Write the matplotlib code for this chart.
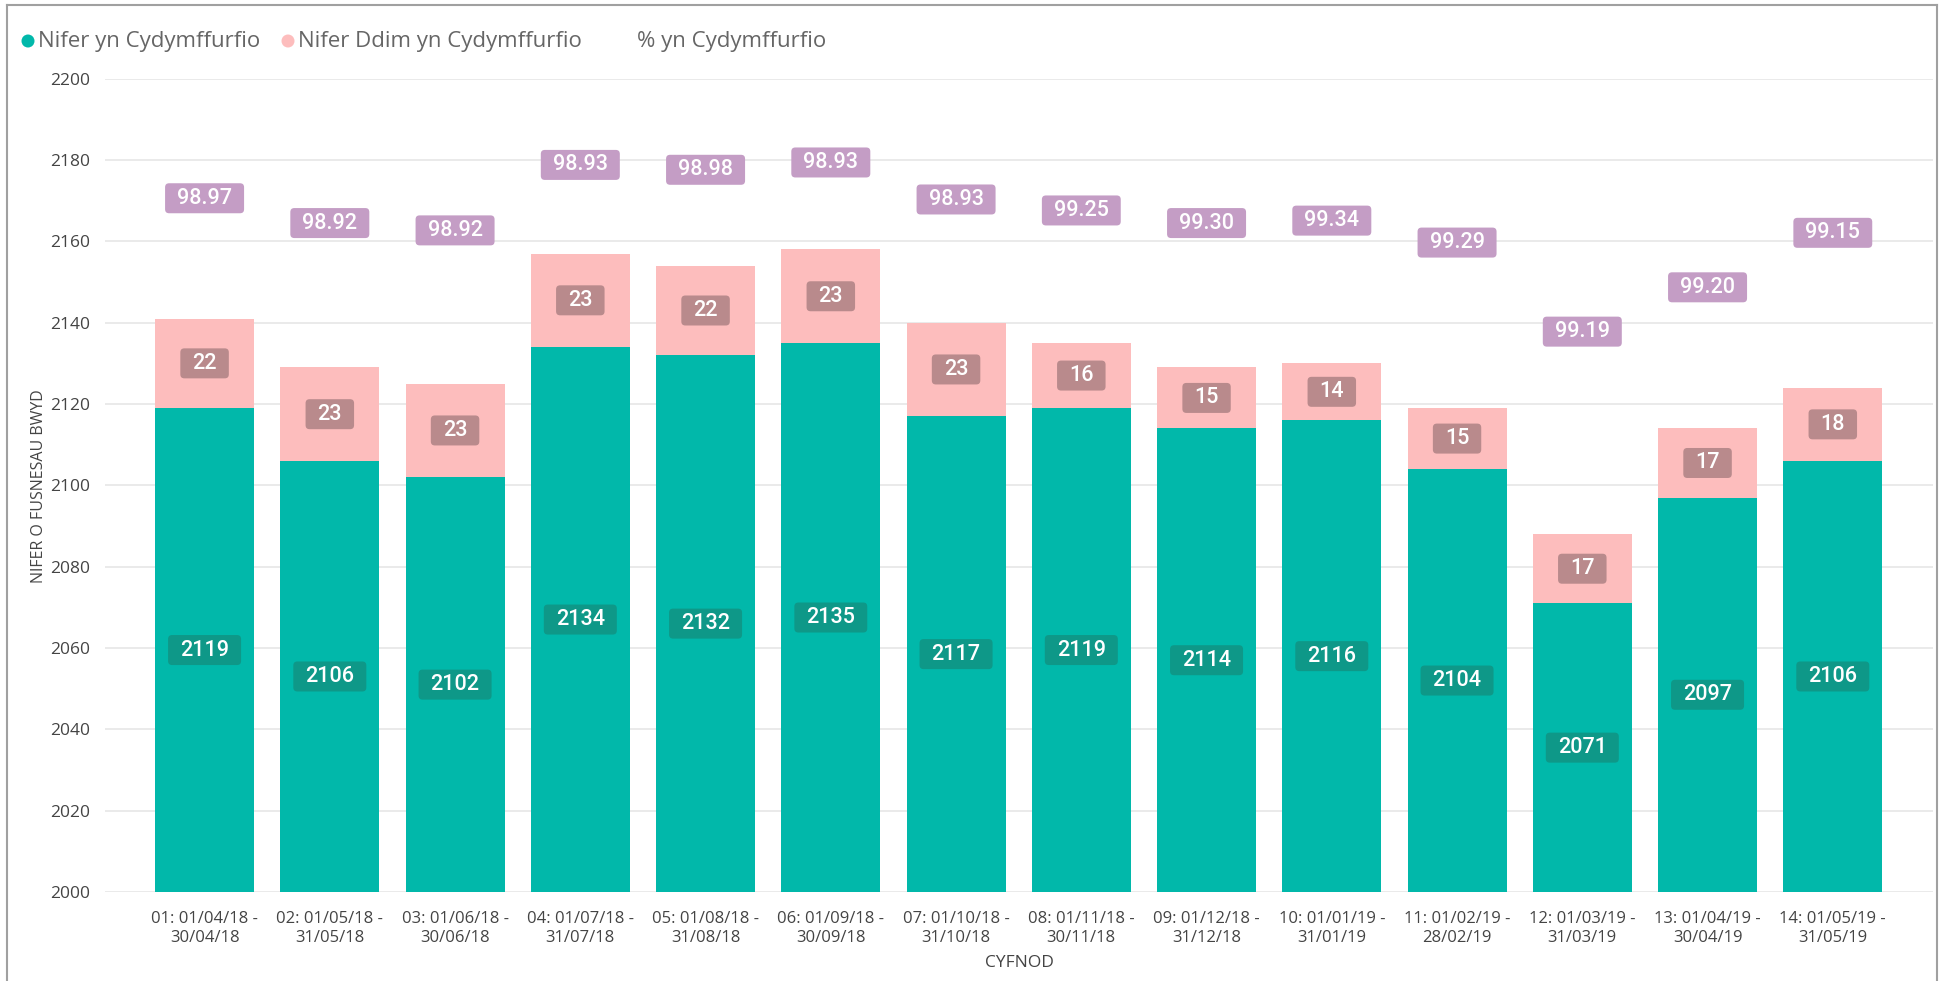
import matplotlib
matplotlib.use("Agg")
import matplotlib.pyplot as plt
from matplotlib.patches import FancyBboxPatch, Circle
from matplotlib.transforms import IdentityTransform
from matplotlib.lines import Line2D
import numpy as np

# ---- data ----
periods = [
    "01: 01/04/18 -\n30/04/18", "02: 01/05/18 -\n31/05/18", "03: 01/06/18 -\n30/06/18",
    "04: 01/07/18 -\n31/07/18", "05: 01/08/18 -\n31/08/18", "06: 01/09/18 -\n30/09/18",
    "07: 01/10/18 -\n31/10/18", "08: 01/11/18 -\n30/11/18", "09: 01/12/18 -\n31/12/18",
    "10: 01/01/19 -\n31/01/19", "11: 01/02/19 -\n28/02/19", "12: 01/03/19 -\n31/03/19",
    "13: 01/04/19 -\n30/04/19", "14: 01/05/19 -\n31/05/19",
]
compliant = [2119, 2106, 2102, 2134, 2132, 2135, 2117, 2119, 2114, 2116, 2104, 2071, 2097, 2106]
non_compliant = [22, 23, 23, 23, 22, 23, 23, 16, 15, 14, 15, 17, 17, 18]
pct_compliant = [98.97, 98.92, 98.92, 98.93, 98.98, 98.93, 98.93, 99.25, 99.30, 99.34,
                 99.29, 99.19, 99.20, 99.15]
# vertical placement of the % labels (in the count-axis units, as laid out in the source)
pct_label_level = [2170.6, 2164.5, 2162.7, 2178.8, 2177.6, 2179.4, 2170.3, 2167.6,
                   2164.5, 2165.1, 2159.7, 2137.8, 2148.7, 2162.1]
yticks = [2000, 2020, 2040, 2060, 2080, 2100, 2120, 2140, 2160, 2180, 2200]

series_names = ["Nifer yn Cydymffurfio", "Nifer Ddim yn Cydymffurfio", "% yn Cydymffurfio"]

# ---- style ----
TEAL = "#01B8AA"
PINK = "#FDBDBD"
TEAL_BOX = "#0E9888"
PINK_BOX = "#B98A8C"
PURPLE_BOX = "#C49DC5"
TICK_COL = "#444444"
LEG_COL = "#666666"
UI_FONT = ["Open Sans", "DejaVu Sans"]
NUM_FONT = ["Roboto", "DejaVu Sans"]

W, H = 1942, 981
fig = plt.figure(figsize=(W / 100, H / 100), dpi=100)
ax = fig.add_axes([105 / W, 1 - 892 / H, (1933 - 105) / W, (892 - 78.7) / H])

x = np.arange(len(periods))
bw = 0.79
ax.bar(x, [c - 2000 for c in compliant], bottom=2000, width=bw, color=TEAL, zorder=2)
ax.bar(x, non_compliant, bottom=compliant, width=bw, color=PINK, zorder=2)

ax.set_ylim(2000, 2200)
ax.set_xlim(-0.795, len(periods) - 1 + 0.80)
ax.set_yticks(yticks)
ax.set_yticklabels([str(t) for t in yticks], fontfamily=UI_FONT, fontsize=12.5, color=TICK_COL)
ax.set_xticks(x)
ax.set_xticklabels(periods, fontfamily=UI_FONT, fontsize=12, color=TICK_COL, linespacing=1.25)
ax.tick_params(axis="y", length=0, pad=11)
ax.tick_params(axis="x", length=0, pad=14)
ax.grid(axis="y", color="#E6E6E6", linewidth=1.2, zorder=0)
ax.set_axisbelow(True)
for s in ax.spines.values():
    s.set_visible(False)

fig.text(39 / W, 1 - 486 / H, "NIFER O FUSNESAU BWYD", rotation=90, ha="center", va="center",
         fontfamily=UI_FONT, fontsize=11.5, color=TICK_COL)
fig.text(1019 / W, 1 - 963 / H, "CYFNOD", ha="center", va="center",
         fontfamily=UI_FONT, fontsize=12.5, color=TICK_COL)

# ---- data labels ----
labels = []
for i in range(len(periods)):
    labels.append((ax.text(x[i], (2000 + compliant[i]) / 2, str(compliant[i]), ha="center", va="center",
                           color="white", fontsize=15.5, fontfamily=NUM_FONT, fontweight="medium",
                           zorder=6), TEAL_BOX))
    labels.append((ax.text(x[i], compliant[i] + non_compliant[i] / 2, str(non_compliant[i]), ha="center",
                           va="center", color="white", fontsize=15.5, fontfamily=NUM_FONT,
                           fontweight="medium", zorder=6), PINK_BOX))
    labels.append((ax.text(x[i], pct_label_level[i], f"{pct_compliant[i]:.2f}", ha="center", va="center",
                           color="white", fontsize=15.5, fontfamily=NUM_FONT, fontweight="medium",
                           zorder=6), PURPLE_BOX))

fig.canvas.draw()
renderer = fig.canvas.get_renderer()
r = 4
bh = 30
for t, col in labels:
    bb = t.get_window_extent(renderer)
    cx = (bb.x0 + bb.x1) / 2
    cy = (bb.y0 + bb.y1) / 2
    w = bb.width + 24
    p = FancyBboxPatch((cx - w / 2 + r, cy - bh / 2 + r), w - 2 * r, bh - 2 * r,
                       boxstyle=f"round,pad={r}", facecolor=col, edgecolor="none",
                       transform=IdentityTransform(), zorder=5, clip_on=False)
    ax.add_artist(p)

# ---- legend (top-left, Power BI style) ----
leg_py = 41
leg_y = 1 - leg_py / H
fig.add_artist(Circle((28, H - leg_py), 6.5, transform=IdentityTransform(), facecolor=TEAL, edgecolor="none"))
fig.text(38 / W, leg_y, series_names[0], ha="left", va="center", fontfamily=UI_FONT, fontsize=16, color=LEG_COL)
fig.add_artist(Circle((288, H - leg_py), 6.5, transform=IdentityTransform(), facecolor=PINK, edgecolor="none"))
fig.text(298 / W, leg_y, series_names[1], ha="left", va="center", fontfamily=UI_FONT, fontsize=16, color=LEG_COL)
fig.text(637 / W, leg_y, series_names[2], ha="left", va="center", fontfamily=UI_FONT, fontsize=16, color=LEG_COL)

# ---- outer frame ----
frame_col = "#A0A0A0"
fig.add_artist(Line2D([7 / W, 7 / W], [0, 1 - 5 / H], transform=fig.transFigure, color=frame_col, lw=1.5))
fig.add_artist(Line2D([7 / W, 1937 / W], [1 - 5 / H, 1 - 5 / H], transform=fig.transFigure, color=frame_col, lw=1.5))
fig.add_artist(Line2D([1937 / W, 1937 / W], [0, 1 - 5 / H], transform=fig.transFigure, color=frame_col, lw=1.5))

fig.savefig("out.png", dpi=100)
